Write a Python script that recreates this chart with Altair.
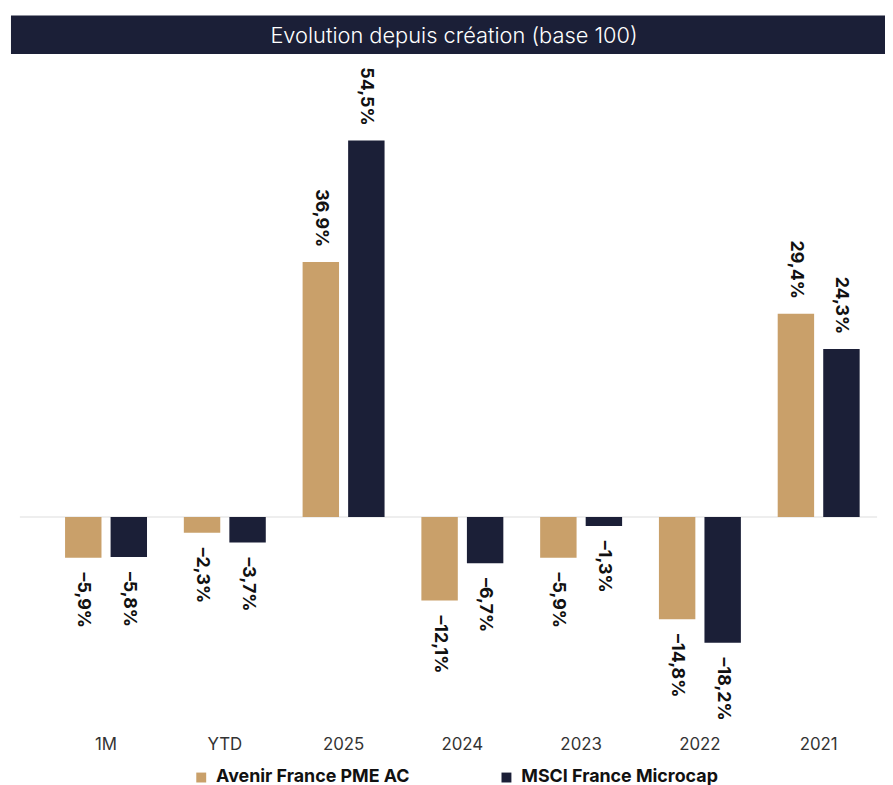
import altair as alt
import pandas as pd

categories = ["1M", "YTD", "2025", "2024", "2023", "2022", "2021"]
series_names = ["Avenir France PME AC", "MSCI France Microcap"]
fund_values = [-5.9, -2.3, 36.9, -12.1, -5.9, -14.8, 29.4]
index_values = [-5.8, -3.7, 54.5, -6.7, -1.3, -18.2, 24.3]
title_text = "Evolution depuis création (base 100)"

TAN = "#C9A06A"
NAVY = "#1B1F37"

rows = []
for s, vals in zip(series_names, [fund_values, index_values]):
    for c, v in zip(categories, vals):
        lab = f"{v:.1f}".replace(".", ",").replace("-", "\u2013") + "%"
        rows.append({"category": c, "series": s, "value": v, "label": lab})
df = pd.DataFrame(rows)

W, H = 865, 670

x = alt.X("category:N", sort=categories, title=None,
          scale=alt.Scale(range=[27, 866], paddingInner=0.31, paddingOuter=0.155, round=False),
          axis=alt.Axis(labelAngle=0, domain=False, ticks=False, labelPadding=10,
                        labelFontSize=17, labelColor="#333333", labelFont="Inter",
                        labelFontWeight="normal"))
xoff = alt.XOffset("series:N", sort=series_names,
                   scale=alt.Scale(paddingInner=0.2, paddingOuter=0, round=False))
y = alt.Y("value:Q", scale=alt.Scale(domain=[-30.4, 65.7], nice=False, zero=False),
          axis=None)

base = alt.Chart(df)

bars = base.mark_bar().encode(
    x=x, xOffset=xoff, y=y, y2=alt.datum(0),
    color=alt.Color("series:N", sort=series_names,
                    scale=alt.Scale(domain=series_names, range=[TAN, NAVY]),
                    legend=alt.Legend(title=None, orient="none", legendX=174, legendY=712,
                                      direction="horizontal", symbolType="square",
                                      symbolSize=100, symbolStrokeWidth=0,
                                      labelFontSize=18, labelFontWeight="bold",
                                      labelColor="#111111", labelFont="Inter",
                                      labelOffset=6, columnPadding=88, labelLimit=400)),
)

pos_labels = base.transform_filter("datum.value >= 0").mark_text(
    angle=90, align="right", baseline="middle", dx=-15,
    fontSize=18, fontWeight="bold", font="Inter", color="#111111"
).encode(x=x, xOffset=xoff, y=y, text="label:N")

neg_labels = base.transform_filter("datum.value < 0").mark_text(
    angle=90, align="left", baseline="middle", dx=15,
    fontSize=18, fontWeight="bold", font="Inter", color="#111111"
).encode(x=x, xOffset=xoff, y=y, text="label:N")

zero_rule = alt.Chart(pd.DataFrame({"z": [0]})).mark_rule(
    color="#EEEEEE", strokeWidth=2
).encode(y=alt.Y("z:Q", scale=alt.Scale(domain=[-30.4, 65.7], nice=False, zero=False), axis=None),
         x=alt.value(0), x2=alt.value(W))

banner = alt.Chart(pd.DataFrame({"t": [title_text]})).mark_rect(color="#1B1F37").encode(
    x=alt.value(-9), x2=alt.value(W + 8), y=alt.value(-48), y2=alt.value(-9)
)
banner_text = alt.Chart(pd.DataFrame({"t": [title_text]})).mark_text(
    color="white", fontSize=22, font="Inter", fontWeight=300, align="center", baseline="middle"
).encode(x=alt.value(438), y=alt.value(-27), text="t:N")

chart = alt.layer(zero_rule, bars, pos_labels, neg_labels, banner, banner_text).properties(
    width=W, height=H,
    autosize=alt.AutoSizeParams(type="none"),
    padding={"left": 12, "top": 52, "right": 8, "bottom": 55},
).configure_view(stroke=None)

chart.save("out.html", embed_options={"renderer": "svg", "actions": False})
